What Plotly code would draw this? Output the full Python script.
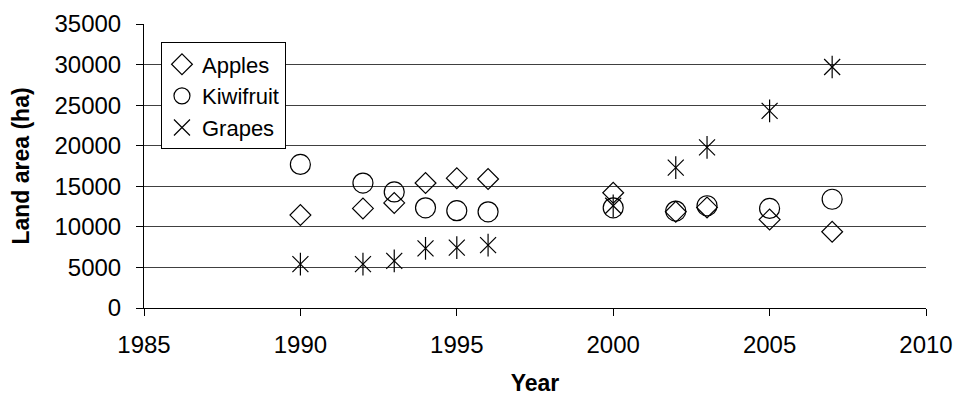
import plotly.graph_objects as go

years = [1990, 1992, 1993, 1994, 1995, 1996, 2000, 2002, 2003, 2005, 2007]
apples = [11450, 12270, 12950, 15400, 16000, 15900, 14200, 11850, 12400, 10900, 9400]
kiwifruit = [17700, 15400, 14300, 12350, 12000, 11850, 12350, 11950, 12600, 12270, 13400]
grapes = [5400, 5400, 5800, 7350, 7450, 7750, 12600, 17300, 19800, 24300, 29700]

x_ticks = [1985, 1990, 1995, 2000, 2005, 2010]
y_ticks = [0, 5000, 10000, 15000, 20000, 25000, 30000, 35000]

FONT = "Liberation Sans, Arial, sans-serif"

fig = go.Figure()
fig.add_trace(go.Scatter(
    x=years, y=apples, mode="markers", name="Apples",
    marker=dict(symbol="diamond-open", size=16, color="black", line=dict(width=1.2, color="black")),
))
fig.add_trace(go.Scatter(
    x=years, y=kiwifruit, mode="markers", name="Kiwifruit",
    marker=dict(symbol="circle-open", size=20, color="black", line=dict(width=1.2, color="black")),
))
fig.add_trace(go.Scatter(
    x=years, y=grapes, mode="markers", name="Grapes",
    marker=dict(symbol="x-thin-open", size=16, color="black", line=dict(width=1.2, color="black")),
    error_y=dict(type="constant", value=1400, width=0, thickness=1.2, color="black"),
))

fig.update_layout(
    width=956, height=401,
    margin=dict(l=144, r=30, t=24, b=93, autoexpand=False),
    paper_bgcolor="white", plot_bgcolor="white",
    font=dict(family=FONT, size=24, color="black"),
    showlegend=True,
    legend=dict(
        x=0.0217, y=0.935, xanchor="left", yanchor="top",
        bgcolor="white", bordercolor="black", borderwidth=1,
        font=dict(size=22, family=FONT, color="black"),
        tracegroupgap=0,
    ),
    xaxis=dict(
        range=[1985, 2010], tickvals=x_ticks, ticktext=[str(v) for v in x_ticks],
        showgrid=False, zeroline=False, automargin=False,
        showline=True, linecolor="black", linewidth=1,
        ticks="outside", ticklen=7, tickcolor="black",
        tickfont=dict(size=24), ticklabelstandoff=8,
        title=dict(text="<b>Year</b>", font=dict(size=23), standoff=18),
    ),
    yaxis=dict(
        range=[0, 35000], tickvals=y_ticks, ticktext=[str(v) for v in y_ticks],
        showgrid=True, gridcolor="#404040", gridwidth=1, zeroline=False, automargin=False,
        showline=True, linecolor="black", linewidth=1,
        ticks="outside", ticklen=7, tickcolor="black",
        tickfont=dict(size=24), ticklabelstandoff=10,
        title=dict(text="<b>Land area (ha)</b>", font=dict(size=23), standoff=18),
    ),
)

fig.write_html(
    "out.html",
    config={"displayModeBar": False},
    post_script="document.body.style.margin='0';document.body.style.overflow='hidden';",
)
